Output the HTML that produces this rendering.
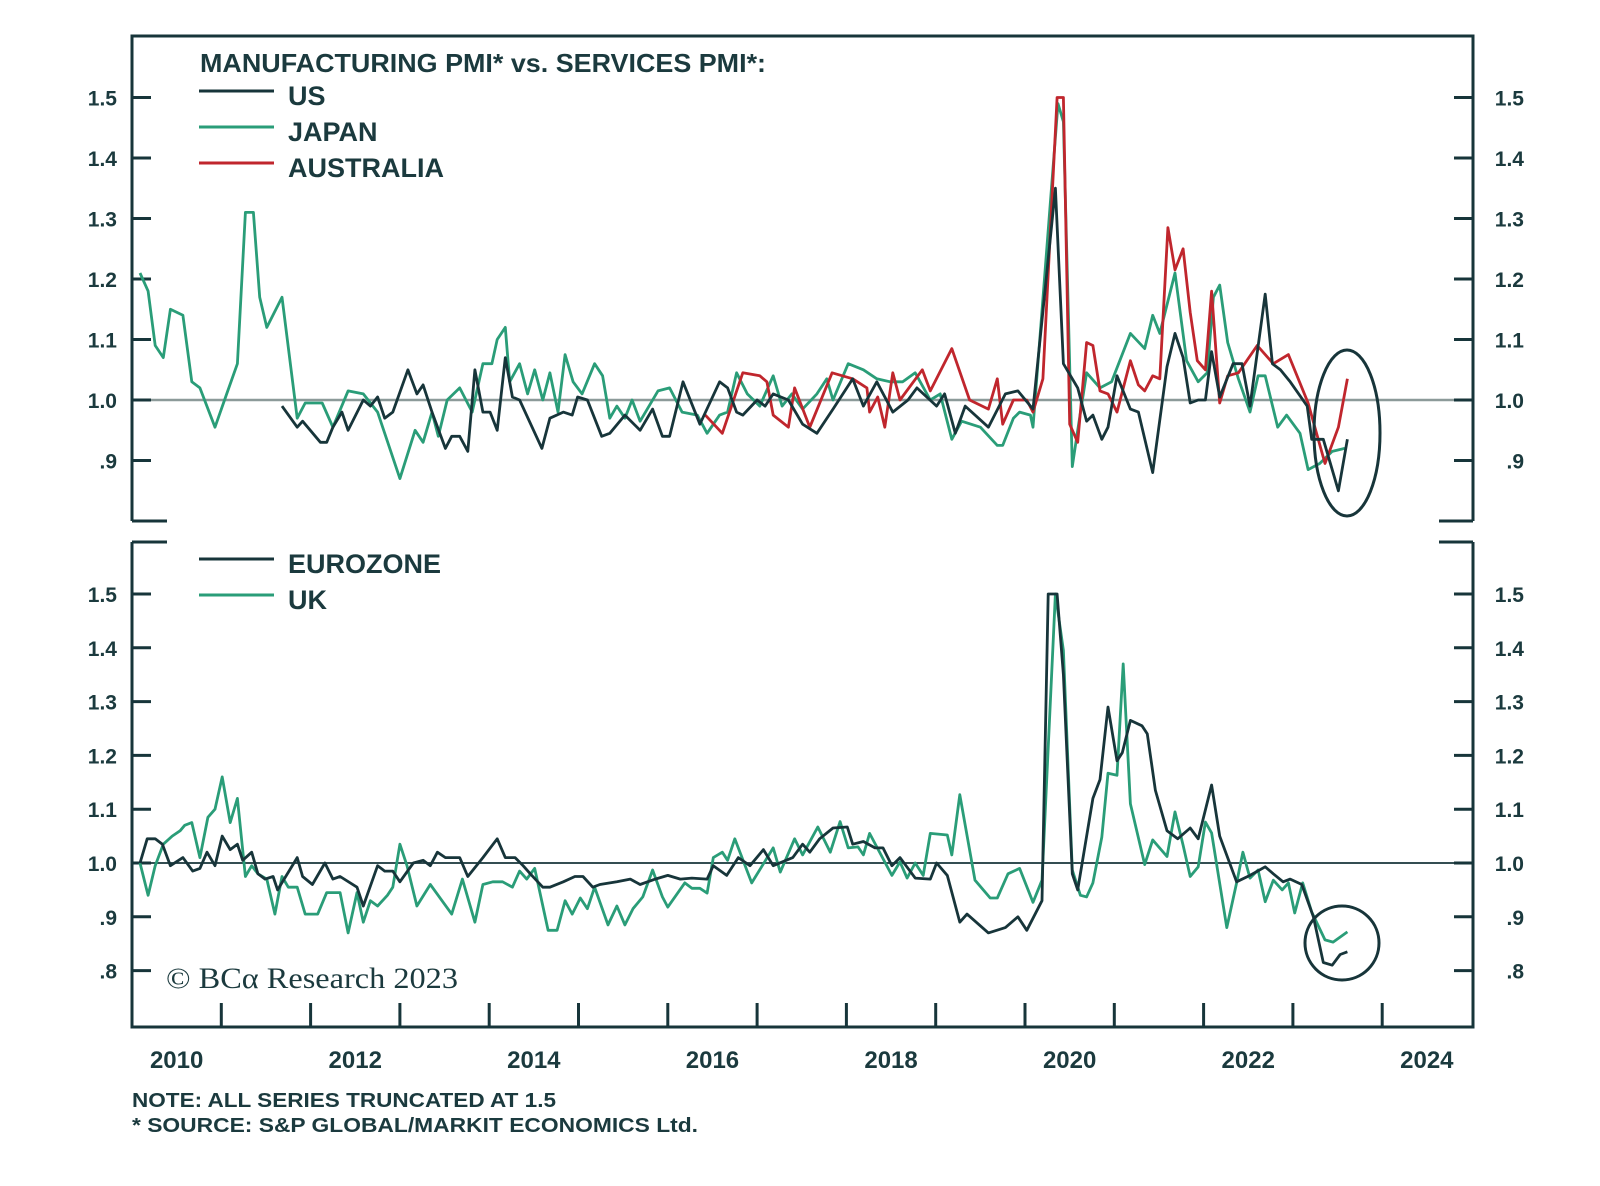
<!DOCTYPE html>
<html><head><meta charset="utf-8"><style>
html,body{margin:0;padding:0;background:#fff;}
svg{display:block;}
text{font-family:"Liberation Sans",sans-serif;fill:#1b3a3e;}
</style></head><body>
<svg id="chart" width="1600" height="1186" viewBox="0 0 1600 1186" xmlns="http://www.w3.org/2000/svg">
<g id="frame"></g>
<g id="axes"></g>
<g id="series"></g>
<text x="200" y="72" font-size="26" font-weight="bold" textLength="566" lengthAdjust="spacingAndGlyphs">MANUFACTURING PMI* vs. SERVICES PMI*:</text>
<g>
<line x1="199" y1="91" x2="274" y2="91" stroke="#17353a" stroke-width="3"/>
<text x="288" y="105" font-size="27" font-weight="bold">US</text>
<line x1="199" y1="127" x2="274" y2="127" stroke="#2a9d78" stroke-width="3"/>
<text x="288" y="141" font-size="27" font-weight="bold">JAPAN</text>
<line x1="199" y1="163" x2="274" y2="163" stroke="#c0262d" stroke-width="3"/>
<text x="288" y="177" font-size="27" font-weight="bold">AUSTRALIA</text>
</g>
<g>
<line x1="199" y1="559" x2="274" y2="559" stroke="#17353a" stroke-width="3"/>
<text x="288" y="573" font-size="27" font-weight="bold">EUROZONE</text>
<line x1="199" y1="595" x2="274" y2="595" stroke="#2a9d78" stroke-width="3"/>
<text x="288" y="609" font-size="27" font-weight="bold">UK</text>
</g>
<text x="166" y="988" font-size="30" style="font-family:'Liberation Serif',serif" textLength="292" lengthAdjust="spacingAndGlyphs">© BCα Research 2023</text>
<text x="132" y="1107" font-size="20" font-weight="bold" textLength="424" lengthAdjust="spacingAndGlyphs">NOTE: ALL SERIES TRUNCATED AT 1.5</text>
<text x="132" y="1132" font-size="20" font-weight="bold" textLength="566" lengthAdjust="spacingAndGlyphs">* SOURCE: S&amp;P GLOBAL/MARKIT ECONOMICS Ltd.</text>
<ellipse cx="1347" cy="433" rx="33" ry="83" fill="none" stroke="#17353a" stroke-width="3"/>
<circle cx="1342" cy="943" r="37" fill="none" stroke="#17353a" stroke-width="3"/>
</svg>
<script>
const baseYear = 2010;
const topTicks = [0.9, 1.0, 1.1, 1.2, 1.3, 1.4, 1.5];
const topTickLabels = [".9", "1.0", "1.1", "1.2", "1.3", "1.4", "1.5"];
const botTicks = [0.8, 0.9, 1.0, 1.1, 1.2, 1.3, 1.4, 1.5];
const botTickLabels = [".8", ".9", "1.0", "1.1", "1.2", "1.3", "1.4", "1.5"];
const xTickYears = [2011,2012,2013,2014,2015,2016,2017,2018,2019,2020,2021,2022,2023,2024];
const xLabelYears = [2010,2012,2014,2016,2018,2020,2022,2024];

const japanT = [.09,.18,.26,.35,.43,.57,.67,.76,.93,1.06,1.18,1.27,1.36,1.43,1.51,1.68,1.85,1.94,2.13,2.25,2.42,2.59,2.75,3.00,3.17,3.26,3.36,3.43,3.53,3.67,3.81,3.93,4.03,4.09,4.18,4.23,4.34,4.43,4.51,4.60,4.68,4.77,4.85,4.94,5.04,5.18,5.27,5.35,5.43,5.52,5.60,5.69,5.89,6.02,6.16,6.33,6.44,6.58,6.67,6.77,6.89,7.03,7.18,7.28,7.39,7.51,7.67,7.78,7.85,8.02,8.19,8.34,8.49,8.63,8.77,8.94,9.05,9.18,9.29,9.50,9.69,9.75,9.87,9.94,10.06,10.09,10.37,10.43,10.53,10.59,10.69,10.84,10.97,11.18,11.34,11.43,11.51,11.68,11.81,11.94,12.04,12.11,12.18,12.27,12.39,12.52,12.61,12.69,12.83,12.93,13.08,13.17,13.30,13.44,13.58];
const japanV = [1.21,1.18,1.09,1.07,1.15,1.14,1.03,1.02,.955,1.01,1.06,1.31,1.31,1.17,1.12,1.17,.97,.995,.995,.955,1.015,1.01,.98,.87,.95,.93,.98,.94,1.00,1.02,.98,1.06,1.06,1.10,1.12,1.03,1.06,1.01,1.05,1.00,1.045,.98,1.075,1.03,1.01,1.06,1.04,.97,.99,.97,1.00,.965,1.015,1.02,.98,.975,.945,.975,.98,1.045,1.01,.99,1.04,.99,1.01,.985,1.01,1.035,1.00,1.06,1.05,1.035,1.03,1.03,1.045,1.00,1.01,.935,.965,.955,.925,.925,.97,.98,.975,.955,1.49,1.46,.89,.95,1.045,1.02,1.03,1.11,1.085,1.14,1.11,1.21,1.065,1.03,1.045,1.17,1.19,1.095,1.035,.98,1.04,1.04,.955,.975,.945,.885,.895,.915,.92];

const usT = [1.68,1.85,1.91,2.11,2.18,2.25,2.35,2.42,2.59,2.67,2.75,2.83,2.92,3.09,3.19,3.26,3.36,3.51,3.58,3.67,3.76,3.84,3.93,4.01,4.09,4.18,4.26,4.34,4.59,4.68,4.83,4.93,4.99,5.10,5.26,5.35,5.52,5.69,5.83,5.94,6.02,6.17,6.36,6.58,6.67,6.77,6.84,7.00,7.09,7.18,7.35,7.51,7.67,7.85,8.07,8.19,8.34,8.52,8.69,8.79,9.01,9.10,9.22,9.33,9.59,9.78,9.92,10.09,10.34,10.43,10.59,10.69,10.76,10.86,10.93,11.03,11.18,11.27,11.43,11.59,11.68,11.77,11.85,11.94,12.02,12.09,12.18,12.33,12.43,12.52,12.69,12.77,12.86,12.97,13.16,13.21,13.34,13.51,13.61];
const usV = [.99,.955,.965,.93,.93,.955,.98,.95,1.00,.99,1.005,.97,.98,1.05,1.01,1.025,.98,.92,.94,.94,.915,1.05,.98,.98,.95,1.07,1.005,1.00,.92,.97,.98,.975,1.005,1.00,.94,.945,.975,.95,.985,.94,.94,1.03,.96,1.03,1.02,.98,.975,1.00,.99,1.01,1.00,.96,.945,.985,1.035,.99,1.03,.98,1.00,1.02,.99,1.01,.945,.99,.955,1.01,1.015,.985,1.35,1.06,1.02,.965,.975,.935,.955,1.04,.985,.98,.88,1.055,1.11,1.07,.995,1.00,1.00,1.08,1.005,1.06,1.06,.99,1.175,1.06,1.05,1.03,.99,.935,.935,.85,.935];

const ausT = [6.42,6.61,6.84,7.03,7.11,7.18,7.35,7.42,7.59,7.84,8.07,8.23,8.26,8.35,8.43,8.52,8.60,8.85,8.94,9.18,9.38,9.59,9.69,9.75,9.87,10.02,10.09,10.20,10.36,10.43,10.50,10.59,10.69,10.76,10.84,10.93,11.03,11.18,11.27,11.34,11.43,11.51,11.60,11.68,11.77,11.85,11.93,12.02,12.09,12.18,12.27,12.39,12.60,12.78,12.95,13.17,13.36,13.51,13.61];
const ausV = [.975,.945,1.045,1.04,1.03,.975,.955,1.02,.955,1.045,1.035,1.02,.98,1.005,.955,1.045,1.00,1.05,1.015,1.085,1.00,.985,1.035,.96,1.00,1.00,.98,1.035,1.5,1.5,.96,.93,1.095,1.09,1.015,1.01,.98,1.065,1.025,1.015,1.04,1.035,1.285,1.215,1.25,1.145,1.065,1.05,1.18,.995,1.04,1.045,1.09,1.06,1.075,.995,.895,.955,1.035];

const euroT = [.09,.17,.26,.34,.43,.57,.68,.76,.84,.93,1.01,1.10,1.18,1.24,1.34,1.41,1.49,1.58,1.63,1.85,1.91,2.02,2.16,2.25,2.33,2.52,2.59,2.75,2.83,2.92,3.00,3.15,3.26,3.34,3.42,3.51,3.67,3.76,3.93,4.09,4.18,4.29,4.38,4.46,4.60,4.68,4.83,4.96,5.05,5.16,5.24,5.43,5.58,5.69,5.86,6.00,6.14,6.27,6.44,6.51,6.66,6.79,6.92,7.07,7.18,7.40,7.51,7.59,7.70,7.85,8.01,8.07,8.19,8.32,8.41,8.51,8.60,8.77,8.94,9.01,9.13,9.27,9.35,9.59,9.78,9.92,10.02,10.19,10.26,10.36,10.43,10.53,10.59,10.76,10.84,10.93,11.03,11.09,11.18,11.31,11.37,11.46,11.59,11.71,11.85,11.94,12.09,12.18,12.37,12.52,12.69,12.78,12.89,12.97,13.10,13.23,13.34,13.44,13.53,13.61];
const euroV = [1.00,1.045,1.045,1.035,.995,1.01,.985,.99,1.02,.995,1.05,1.025,1.035,1.005,1.02,.98,.97,.975,.95,1.01,.975,.96,1.00,.97,.975,.955,.92,.995,.985,.985,.965,1.00,1.005,.995,1.02,1.01,1.01,.975,1.01,1.045,1.01,1.01,.995,.98,.955,.955,.965,.975,.975,.955,.96,.965,.97,.96,.97,.977,.97,.972,.97,.995,.977,1.01,.995,1.025,.995,1.01,1.035,1.02,1.045,1.065,1.067,1.035,1.04,1.028,1.028,.995,1.01,.972,.97,1.00,.977,.89,.905,.87,.88,.90,.875,.93,1.5,1.5,1.35,.98,.95,1.12,1.155,1.29,1.19,1.205,1.265,1.255,1.24,1.135,1.06,1.045,1.065,1.045,1.145,1.05,.965,.977,.993,.98,.965,.97,.96,.90,.815,.81,.83,.835];

const ukT = [.09,.18,.26,.35,.45,.54,.59,.67,.76,.85,.93,1.01,1.10,1.18,1.27,1.34,1.41,1.51,1.60,1.68,1.75,1.85,1.94,2.08,2.18,2.33,2.42,2.52,2.59,2.67,2.75,2.86,2.92,3.00,3.08,3.19,3.34,3.58,3.70,3.84,3.93,4.04,4.15,4.26,4.34,4.42,4.51,4.66,4.76,4.85,4.93,5.02,5.10,5.18,5.33,5.43,5.52,5.61,5.72,5.83,5.94,6.00,6.19,6.27,6.36,6.44,6.51,6.61,6.67,6.75,6.94,7.18,7.26,7.42,7.51,7.68,7.82,7.93,8.02,8.13,8.19,8.26,8.51,8.60,8.68,8.77,8.86,8.94,9.13,9.18,9.27,9.44,9.61,9.69,9.81,9.94,10.09,10.19,10.34,10.43,10.53,10.62,10.69,10.76,10.86,10.93,11.03,11.10,11.18,11.34,11.43,11.59,11.68,11.77,11.85,11.94,12.02,12.09,12.26,12.37,12.44,12.52,12.61,12.69,12.78,12.88,12.95,13.02,13.11,13.21,13.36,13.45,13.61];
const ukV = [1.00,.94,.995,1.035,1.05,1.06,1.07,1.075,1.01,1.085,1.10,1.16,1.075,1.12,.975,.995,.98,.97,.905,.975,.955,.955,.905,.905,.945,.945,.87,.945,.89,.93,.92,.94,.955,1.035,.995,.92,.96,.905,.97,.89,.96,.965,.965,.955,.985,.97,.99,.875,.875,.93,.905,.935,.915,.955,.885,.92,.885,.915,.937,.987,.937,.918,.963,.953,.953,.944,1.01,1.02,1.005,1.045,.963,1.028,.983,1.045,1.015,1.067,1.02,1.077,1.028,1.03,1.015,1.055,.977,1.002,.972,1.00,.977,1.055,1.052,1.015,1.127,.968,.935,.935,.98,.99,.927,.968,1.5,1.395,.987,.94,.937,.963,1.048,1.167,1.163,1.37,1.11,.997,1.043,1.012,1.095,1.033,.975,.993,1.076,1.056,.88,.963,1.02,.972,.987,.928,.968,.95,.963,.907,.963,.909,.857,.853,.872];

const NS = "http://www.w3.org/2000/svg";
const L = 132, R = 1473;
function xScale(yr){ return L + (yr - 2010) * 89.3; }
function yTop(v){ return 400 - (v - 1) * 605; }
function yBot(v){ return 863 - (v - 1) * 538; }
function mk(tag, attrs, parent){
  const e = document.createElementNS(NS, tag);
  for (const k in attrs) e.setAttribute(k, attrs[k]);
  parent.appendChild(e);
  return e;
}
const DARK = "#17353a";
const frame = document.getElementById("frame");
const axes = document.getElementById("axes");
const series = document.getElementById("series");

// frame
let p = mk("path", {d:`M${L} 521 V36 H${R} V521 M${L} 521 H167 M${R} 521 H1439 M${L} 542 V1027 H${R} V542 M${L} 542 H167 M${R} 542 H1439`, fill:"none", stroke:DARK, "stroke-width":3}, frame);



// reference lines
let r1 = mk("line", {x1:L, x2:R, y1:yTop(1), y2:yTop(1), stroke:"#8c9a99", "stroke-width":2.5}, axes);


let r2 = mk("line", {x1:L, x2:R, y1:yBot(1), y2:yBot(1), stroke:DARK, "stroke-width":1.8}, axes);



// y ticks
topTicks.forEach((v,i)=>{
  const y = yTop(v);
  const t = mk("path", {d:`M${L} ${y} H${L+19} M${R} ${y} H${R-19}`, stroke:DARK, "stroke-width":3}, axes);
  
  
  const a = mk("text", {x:117, y:y+8, "font-size":21, "font-weight":"bold", "text-anchor":"end"}, axes);
  a.textContent = topTickLabels[i];
  
  
  const b = mk("text", {x:1524, y:y+8, "font-size":21, "font-weight":"bold", "text-anchor":"end"}, axes);
  b.textContent = topTickLabels[i];
  
  
});
botTicks.forEach((v,i)=>{
  const y = yBot(v);
  const t = mk("path", {d:`M${L} ${y} H${L+19} M${R} ${y} H${R-19}`, stroke:DARK, "stroke-width":3}, axes);
  
  
  const a = mk("text", {x:117, y:y+8, "font-size":21, "font-weight":"bold", "text-anchor":"end"}, axes);
  a.textContent = botTickLabels[i];
  
  
  const b = mk("text", {x:1524, y:y+8, "font-size":21, "font-weight":"bold", "text-anchor":"end"}, axes);
  b.textContent = botTickLabels[i];
  
  
});
// x ticks
xTickYears.forEach(yr=>{
  const x = xScale(yr);
  const t = mk("line", {x1:x, x2:x, y1:1027, y2:1003, stroke:DARK, "stroke-width":3}, axes);
  
  
});
xLabelYears.forEach(yr=>{
  const t = mk("text", {x:xScale(yr+0.5), y:1068, "font-size":24, "font-weight":"bold", "text-anchor":"middle"}, axes);
  t.textContent = String(yr);
  
  
});

function drawLine(ts, vs, yf, color, name){
  let d = "";
  ts.forEach((t,i)=>{ d += (i? "L":"M") + xScale(baseYear + t).toFixed(1) + " " + yf(vs[i]).toFixed(1); });
  const e = mk("path", {d:d, fill:"none", stroke:color, "stroke-width":2.8, "stroke-linejoin":"round"}, series);
  
  
}
drawLine(japanT, japanV, yTop, "#2a9d78", "line-japan");
drawLine(ausT, ausV, yTop, "#c0262d", "line-australia");
drawLine(usT, usV, yTop, DARK, "line-us");
drawLine(ukT, ukV, yBot, "#2a9d78", "line-uk");
drawLine(euroT, euroV, yBot, DARK, "line-eurozone");
</script>
</body></html>
